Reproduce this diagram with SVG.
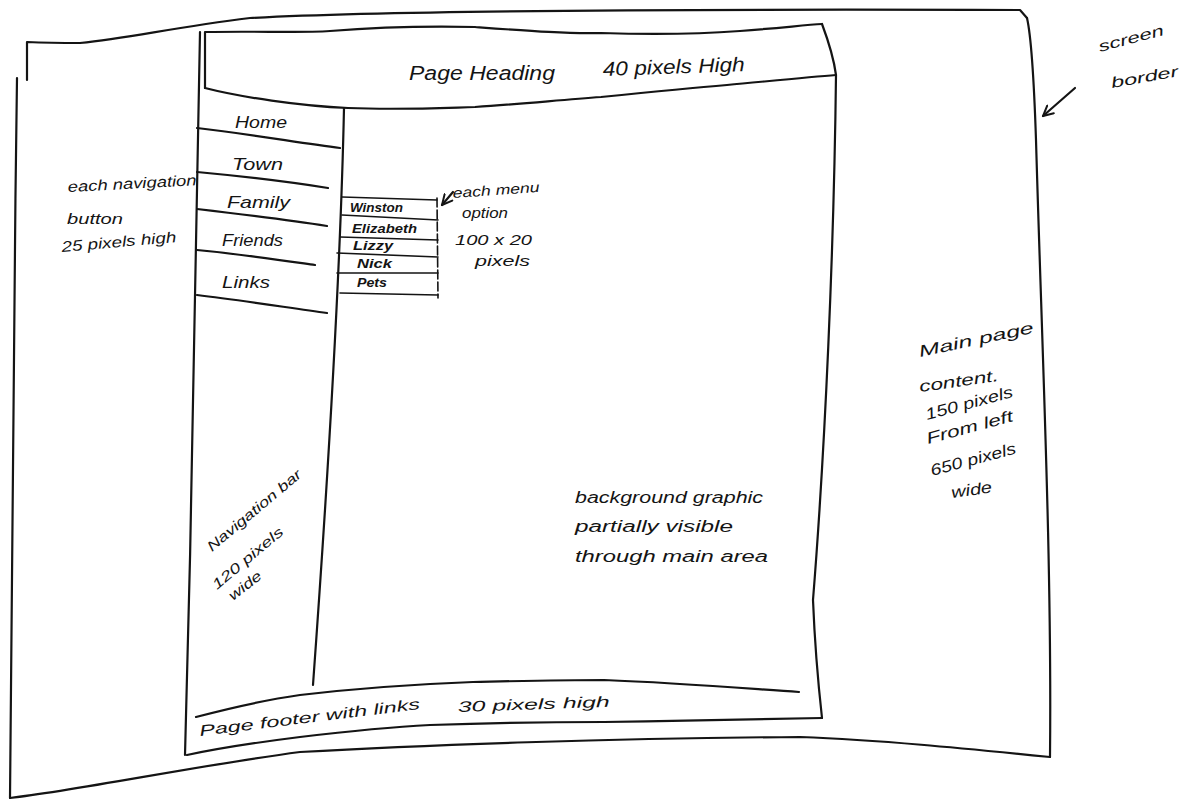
<svg xmlns="http://www.w3.org/2000/svg" width="1184" height="800" viewBox="0 0 1184 800">
<defs>
<style>
.ln{fill:none;stroke:#141414;stroke-width:2.2;stroke-linecap:round;stroke-linejoin:round}
.th{fill:none;stroke:#141414;stroke-width:1.6;stroke-linecap:round}
.t{font-family:"Liberation Sans",Arial,sans-serif;font-style:italic;fill:#141414}
.s20{font-size:20px}.s17{font-size:17px}.s16{font-size:16px}.s15{font-size:15px}.s14{font-size:14px}.s12{font-size:12px;font-weight:bold}
</style>
<marker id="ah" viewBox="0 0 12 12" refX="11" refY="6" markerWidth="12" markerHeight="12" markerUnits="userSpaceOnUse" orient="auto">
<path d="M1,1 L11,6 L1,11" fill="none" stroke="#141414" stroke-width="2" stroke-linecap="round"/>
</marker>
</defs>
<rect width="1184" height="800" fill="#ffffff"/>

<g id="screen-border">
<path class="ln" d="M27,80 L27,42 C50,43 70,43 80,43 C130,38 170,28 250,18 C400,10 700,9 1020,10 L1027,18"/>
<path class="ln" d="M1027,18 C1032,40 1034,80 1036,140 C1042,350 1052,560 1050,757"/>
<path class="ln" d="M1050,757 C960,748 880,740 800,737 C620,738 420,745 300,752 C200,765 80,790 10,798"/>
<path class="ln" d="M10,798 C12,500 14,300 17,78"/>
<text class="t s15" transform="translate(1100,52) rotate(-15)" textLength="67" lengthAdjust="spacingAndGlyphs">screen</text>
<text class="t s15" transform="translate(1112,88) rotate(-10)" textLength="68" lengthAdjust="spacingAndGlyphs">border</text>
</g>

<g id="page">
<path class="ln" d="M200,32 C198,200 192,500 185,755"/>
<path class="ln" d="M822,24 C828,40 834,60 836,75 C834,250 825,450 813,600 C815,650 820,700 822,718"/>
</g>

<g id="page-heading">
<path class="ln" d="M205,88 L205,32 C260,31 300,33 330,31 C380,27 430,26 475,27 C530,31 570,34 601,33 C660,35 700,34 740,31 C780,28 805,25 822,24"/>
<path class="ln" d="M205,88 C240,97 300,106 348,108 C400,110 440,108 475,107 C520,104 560,100 601,97 C650,92 690,88 727,85 C770,81 810,77 836,75"/>
<text class="t s20" x="409" y="80" textLength="146" lengthAdjust="spacingAndGlyphs">Page Heading</text>
<text class="t s20" transform="translate(603,76) rotate(-2)" textLength="142" lengthAdjust="spacingAndGlyphs">40 pixels High</text>
</g>

<g id="navigation-bar">
<path class="ln" d="M344,108 C341,250 330,450 313,685"/>
<text class="t s14" transform="translate(212,552) rotate(-40)" textLength="118" lengthAdjust="spacingAndGlyphs">Navigation bar</text>
<text class="t s14" transform="translate(217,590) rotate(-40)" textLength="88" lengthAdjust="spacingAndGlyphs">120 pixels</text>
<text class="t s14" transform="translate(233,601) rotate(-38)" textLength="38" lengthAdjust="spacingAndGlyphs">wide</text>
</g>

<g id="nav-home">
<text class="t s17" x="235" y="128" textLength="52" lengthAdjust="spacingAndGlyphs">Home</text>
<path class="ln" d="M197,128 C250,134 300,143 340,148"/>
</g>
<g id="nav-town">
<text class="t s17" x="232" y="170" textLength="51" lengthAdjust="spacingAndGlyphs">Town</text>
<path class="ln" d="M197,172 C240,176 290,182 328,188"/>
</g>
<g id="nav-family">
<text class="t s17" x="227" y="208" textLength="63" lengthAdjust="spacingAndGlyphs">Family</text>
<path class="ln" d="M197,209 C240,214 290,220 327,226"/>
</g>
<g id="nav-friends">
<text class="t s17" x="222" y="246" textLength="61" lengthAdjust="spacingAndGlyphs">Friends</text>
<path class="ln" d="M197,250 C240,254 280,260 315,265"/>
</g>
<g id="nav-links">
<text class="t s17" x="222" y="288" textLength="48" lengthAdjust="spacingAndGlyphs">Links</text>
<path class="ln" d="M197,295 C240,300 290,308 327,313"/>
</g>

<g id="sub-menu">
<path class="th" d="M342,197 L437,200"/>
<path class="th" d="M437,198 L438,298" stroke-dasharray="9 3"/>
<text class="t s12" x="350" y="212" textLength="53" lengthAdjust="spacingAndGlyphs">Winston</text>
<path class="th" d="M342,215 L438,220"/>
<text class="t s12" x="352" y="233" textLength="65" lengthAdjust="spacingAndGlyphs">Elizabeth</text>
<path class="th" d="M340,237 L438,240"/>
<text class="t s12" x="353" y="250" textLength="40" lengthAdjust="spacingAndGlyphs">Lizzy</text>
<path class="th" d="M337,253 L438,257"/>
<text class="t s12" x="357" y="268" textLength="35" lengthAdjust="spacingAndGlyphs">Nick</text>
<path class="th" d="M337,273 L438,273"/>
<text class="t s12" x="357" y="287" textLength="30" lengthAdjust="spacingAndGlyphs">Pets</text>
<path class="th" d="M340,293 L438,295"/>
</g>

<g id="page-footer">
<path class="ln" d="M196,717 C230,708 265,700 300,695 C360,688 420,684 473,682 C520,681 560,680 604,680 C680,683 740,688 799,692"/>
<path class="ln" d="M187,755 C220,748 260,742 300,737 C350,731 390,727 430,725 C490,723 550,722 604,722 C680,721 760,719 822,718"/>
<text class="t s15" transform="translate(200,736) rotate(-7)" textLength="222" lengthAdjust="spacingAndGlyphs">Page footer with links</text>
<text class="t s15" transform="translate(458,712) rotate(-2)" textLength="152" lengthAdjust="spacingAndGlyphs">30 pixels high</text>
</g>

<g id="note-nav-button">
<text class="t s15" transform="translate(68,192) rotate(-3)" textLength="129" lengthAdjust="spacingAndGlyphs">each navigation</text>
<text class="t s15" x="67" y="224" textLength="56" lengthAdjust="spacingAndGlyphs">button</text>
<text class="t s15" transform="translate(62,252) rotate(-5)" textLength="115" lengthAdjust="spacingAndGlyphs">25 pixels high</text>
</g>

<g id="note-menu-option">
<text class="t s14" transform="translate(453,198) rotate(-4)" textLength="87" lengthAdjust="spacingAndGlyphs">each menu</text>
<text class="t s14" x="462" y="218" textLength="46" lengthAdjust="spacingAndGlyphs">option</text>
<text class="t s14" x="455" y="245" textLength="77" lengthAdjust="spacingAndGlyphs">100 x 20</text>
<text class="t s14" x="475" y="266" textLength="55" lengthAdjust="spacingAndGlyphs">pixels</text>
</g>

<g id="note-main-content">
<text class="t s16" transform="translate(920,357) rotate(-12)" textLength="117" lengthAdjust="spacingAndGlyphs">Main page</text>
<text class="t s16" transform="translate(920,392) rotate(-8)" textLength="80" lengthAdjust="spacingAndGlyphs">content.</text>
<text class="t s16" transform="translate(927,420) rotate(-15)" textLength="90" lengthAdjust="spacingAndGlyphs">150 pixels</text>
<text class="t s16" transform="translate(928,444) rotate(-15)" textLength="89" lengthAdjust="spacingAndGlyphs">From left</text>
<text class="t s16" transform="translate(932,476) rotate(-15)" textLength="88" lengthAdjust="spacingAndGlyphs">650 pixels</text>
<text class="t s16" transform="translate(952,498) rotate(-8)" textLength="41" lengthAdjust="spacingAndGlyphs">wide</text>
</g>

<g id="note-background">
<text class="t s16" x="575" y="503" textLength="188" lengthAdjust="spacingAndGlyphs">background graphic</text>
<text class="t s16" x="575" y="532" textLength="158" lengthAdjust="spacingAndGlyphs">partially visible</text>
<text class="t s16" x="575" y="562" textLength="193" lengthAdjust="spacingAndGlyphs">through main area</text>
</g>

<g id="connectors">
<path class="ln" d="M1075,88 L1043,116" marker-end="url(#ah)"/>
<path class="ln" d="M453,192 L442,205" marker-end="url(#ah)"/>
</g>
</svg>
